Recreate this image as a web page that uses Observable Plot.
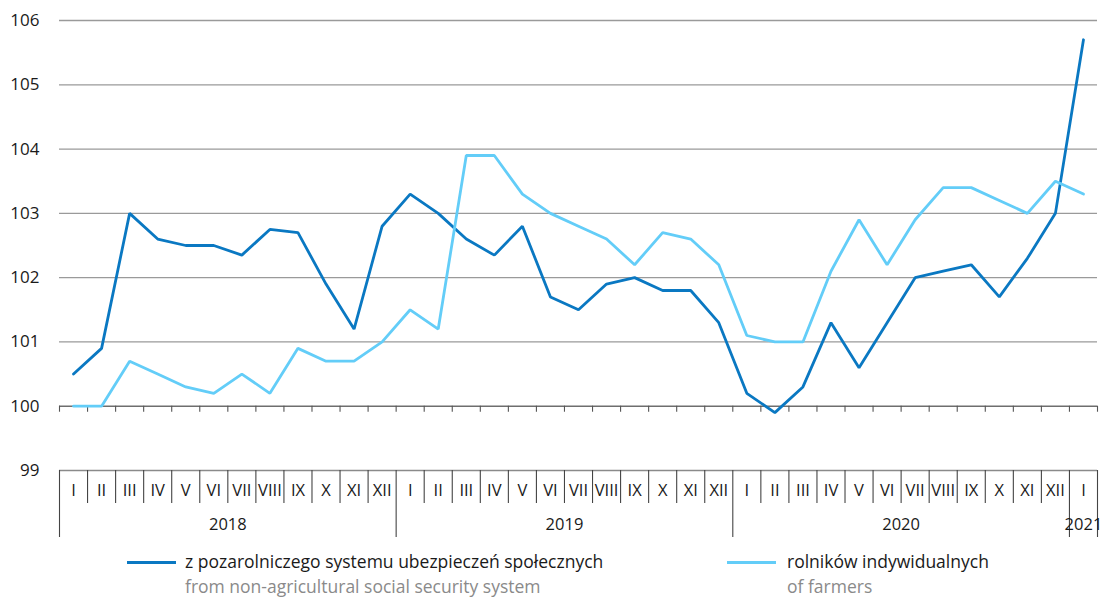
<!DOCTYPE html>
<html>
<head>
<meta charset="utf-8">
<script src="https://cdn.jsdelivr.net/npm/d3@7"></script>
<script src="https://cdn.jsdelivr.net/npm/@observablehq/plot@0.6"></script>
<style>
  html, body { margin: 0; padding: 0; background: #fff; }
  #wrap { position: relative; width: 1101px; height: 599px; font-family: "Open Sans", sans-serif; }
  .leg { position: absolute; font-size: 17.5px; white-space: nowrap; line-height: 1; }
  .sw { position: absolute; height: 3px; }
</style>
</head>
<body>
<div id="wrap"></div>
<script>
// ---- data ----
const monthNames = ["I","II","III","IV","V","VI","VII","VIII","IX","X","XI","XII"];
const monthLabels = [...monthNames, ...monthNames, ...monthNames, "I"];
const years = ["2018", "2019", "2020", "2021"];
const yearStartIdx = [0, 12, 24, 36];
const yearLen = [12, 12, 12, 1];
const seriesNames = ["z pozarolniczego systemu ubezpieczeń społecznych", "rolników indywidualnych"];
const seriesNamesEn = ["from non-agricultural social security system", "of farmers"];
const nonAgri = [100.5,100.9,103.0,102.6,102.5,102.5,102.35,102.75,102.7,101.9,101.2,102.8,
                 103.3,103.0,102.6,102.35,102.8,101.7,101.5,101.9,102.0,101.8,101.8,101.3,
                 100.2,99.9,100.3,101.3,100.6,101.3,102.0,102.1,102.2,101.7,102.3,103.0,
                 105.7];
const farmers = [100.0,100.0,100.7,100.5,100.3,100.2,100.5,100.2,100.9,100.7,100.7,101.0,
                 101.5,101.2,103.9,103.9,103.3,103.0,102.8,102.6,102.2,102.7,102.6,102.2,
                 101.1,101.0,101.0,102.1,102.9,102.2,102.9,103.4,103.4,103.2,103.0,103.5,
                 103.3];
const yTicks = [99, 100, 101, 102, 103, 104, 105, 106];
const colors = ["#0a78c2", "#63cdf8"];

// ---- derived tables ----
const n = monthLabels.length;
const rows = [];
monthLabels.forEach((m, i) => {
  rows.push({i: i + 0.5, v: nonAgri[i], s: seriesNames[0]});
});
monthLabels.forEach((m, i) => {
  rows.push({i: i + 0.5, v: farmers[i], s: seriesNames[1]});
});
const bounds = d3.range(n + 1);
const yearBounds = [...yearStartIdx, n];
const monthBounds = bounds.filter(b => !yearBounds.includes(b));
const yearLabels = years.map((y, k) => ({x: yearStartIdx[k] + yearLen[k] / 2, t: y}));

// y-units for the label band below the 99 line (px / unit)
const pxPerUnit = (470 - 20) / 7;
const u = px => px / pxPerUnit;

const chart = Plot.plot({
  width: 1101,
  height: 545,
  marginTop: 20,
  marginBottom: 75,
  marginLeft: 59,
  marginRight: 4,
  style: {fontFamily: "Open Sans, sans-serif", fontSize: "16.5px", color: "#1a1a1a", background: "#fff"},
  x: {domain: [0, n], axis: null},
  y: {domain: [99, 106], axis: null},
  color: {domain: seriesNames, range: colors},
  marks: [
    Plot.ruleY([101, 102, 103, 104, 105, 106], {stroke: "#9a9a9a", strokeWidth: 1.3}),
    Plot.ruleY([99], {stroke: "#8a8a8a", strokeWidth: 1.3}),
    Plot.ruleY([100], {stroke: "#6e6e6e", strokeWidth: 1.6}),
    Plot.ruleX(bounds, {x: d => d, y1: 100, y2: 100 - u(6), stroke: "#555", strokeWidth: 1.1}),
    Plot.ruleX(monthBounds, {x: d => d, y1: 99, y2: 99 - u(33), stroke: "#444", strokeWidth: 1.1}),
    Plot.ruleX(yearBounds, {x: d => d, y1: 99, y2: 99 - u(67), stroke: "#444", strokeWidth: 1.1}),
    Plot.axisY(yTicks, {anchor: "left", label: null, tickSize: 0, tickPadding: 20, fontSize: 17, fill: "#1a1a1a", tickFormat: d => String(d)}),
    Plot.text(monthLabels, {x: (d, i) => i + 0.5, y: 99 - u(20), text: d => d, fontSize: 16.5, fill: "#1a1a1a"}),
    Plot.text(yearLabels, {x: "x", y: 99 - u(54.5), text: "t", fontSize: 16.5, fill: "#1a1a1a"}),
    Plot.line(rows, {x: "i", y: "v", z: "s", stroke: "s", strokeWidth: 2.8, strokeLinejoin: "miter", curve: "linear"})
  ]
});

const wrap = document.getElementById("wrap");
wrap.appendChild(chart);

// legend
const legendPos = [{sw: 127, tx: 185}, {sw: 727, tx: 787}];
seriesNames.forEach((name, k) => {
  const sw = document.createElement("div");
  sw.className = "sw";
  sw.style.left = legendPos[k].sw + "px";
  sw.style.width = "49px";
  sw.style.top = "561px";
  sw.style.background = colors[k];
  wrap.appendChild(sw);
  const t1 = document.createElement("div");
  t1.className = "leg";
  t1.style.left = legendPos[k].tx + "px";
  t1.style.top = "553px";
  t1.style.color = "#1a1a1a";
  t1.textContent = name;
  wrap.appendChild(t1);
  const t2 = document.createElement("div");
  t2.className = "leg";
  t2.style.left = legendPos[k].tx + "px";
  t2.style.top = "578px";
  t2.style.color = "#8a8a8a";
  t2.textContent = seriesNamesEn[k];
  wrap.appendChild(t2);
});
</script>
</body>
</html>
